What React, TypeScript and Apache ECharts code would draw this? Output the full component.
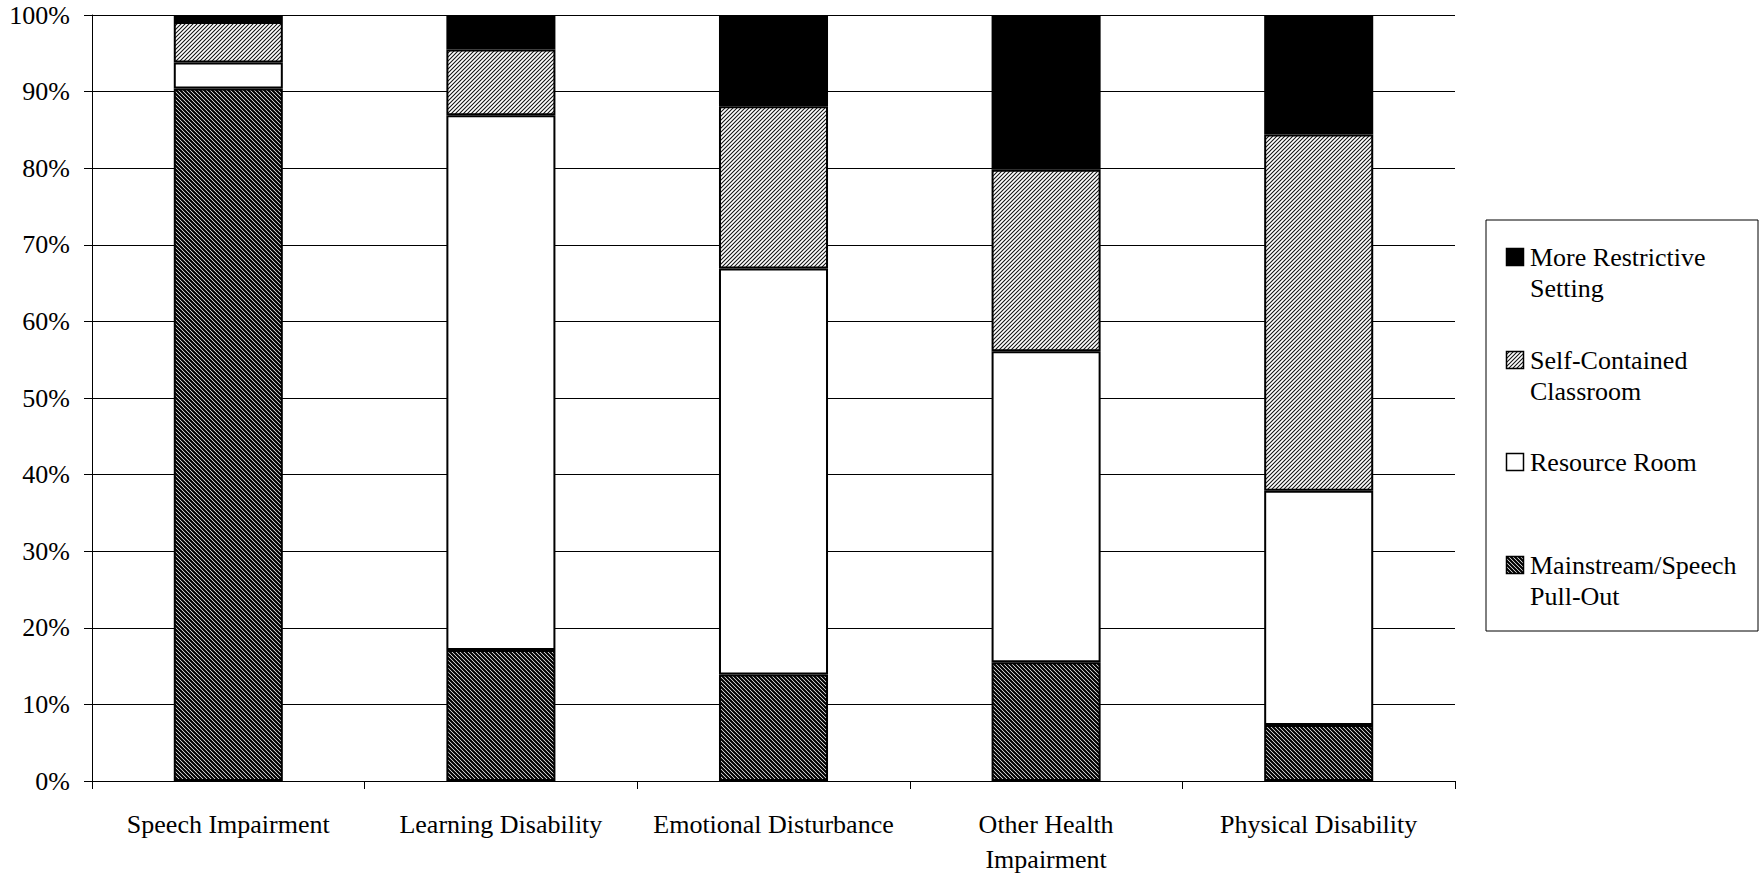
import { useEffect, useRef } from 'react';
import * as echarts from 'echarts';

// Placement of students by disability category (percent of each category)
const categories = [
  'Speech Impairment',
  'Learning Disability',
  'Emotional Disturbance',
  'Other Health\nImpairment',
  'Physical Disability',
];

const seriesNames = [
  'Mainstream/Speech Pull-Out',
  'Resource Room',
  'Self-Contained Classroom',
  'More Restrictive Setting',
];

const mainstream = [90.4, 17.1, 13.9, 15.5, 7.3];
const resourceRoom = [3.4, 69.8, 53.0, 40.6, 30.6];
const selfContained = [5.3, 8.6, 21.2, 23.7, 46.5];
const moreRestrictive = [0.9, 4.5, 11.9, 20.2, 15.6];

// Legend entries, top to bottom, split into their display lines
const legendEntries = [
  { series: 3, lines: ['More Restrictive', 'Setting'] },
  { series: 2, lines: ['Self-Contained', 'Classroom'] },
  { series: 1, lines: ['Resource Room'] },
  { series: 0, lines: ['Mainstream/Speech', 'Pull-Out'] },
];

const FONT = "'Liberation Serif', 'Times New Roman', serif";
const FONT_SIZE = 26;

// Small repeating diagonal hatch tile
function makeHatch(kind: 'light' | 'dark') {
  const size = 4;
  const c = document.createElement('canvas');
  c.width = size;
  c.height = size;
  const ctx = c.getContext('2d')!;
  const img = ctx.createImageData(size, size);
  const lightVals = [30, 190, 255, 190];
  const darkVals = [200, 25, 0, 25];
  for (let y = 0; y < size; y++) {
    for (let x = 0; x < size; x++) {
      let v: number;
      if (kind === 'light') {
        v = lightVals[(x + y) % size];
      } else {
        v = darkVals[(((x - y) % size) + size) % size];
      }
      const i = (y * size + x) * 4;
      img.data[i] = v;
      img.data[i + 1] = v;
      img.data[i + 2] = v;
      img.data[i + 3] = 255;
    }
  }
  ctx.putImageData(img, 0, 0);
  return {
    image: c.toDataURL(),
    repeat: 'repeat',
    imageWidth: size,
    imageHeight: size,
  } as any;
}

export default function App() {
  const ref = useRef<HTMLDivElement>(null);

  useEffect(() => {
    document.body.style.margin = '0';
    const chart = echarts.init(ref.current!, null, { renderer: 'svg' });

    const fills: any[] = [makeHatch('dark'), '#ffffff', makeHatch('light'), '#000000'];
    const values = [mainstream, resourceRoom, selfContained, moreRestrictive];

    const series = seriesNames.map((name, i) => ({
      name,
      type: 'bar',
      stack: 'placement',
      barWidth: '40%',
      data: values[i],
      itemStyle: {
        color: fills[i],
        borderColor: '#000',
        borderWidth: 2,
      },
      emphasis: { disabled: true },
    }));

    // Legend box drawn as graphic elements
    const boxX = 1486;
    const boxY = 220;
    const boxW = 272;
    const boxH = 411;
    const firstLineY = [257, 360, 462, 565];
    const lineH = 31;
    const legendEls: any[] = [
      {
        type: 'rect',
        shape: { x: boxX, y: boxY, width: boxW, height: boxH },
        style: { fill: '#fff', stroke: '#000', lineWidth: 1 },
      },
    ];
    legendEntries.forEach((entry, k) => {
      const cy = firstLineY[k];
      legendEls.push({
        type: 'rect',
        shape: { x: 1506.5, y: cy - 8.5, width: 17, height: 17 },
        style: { fill: fills[entry.series], stroke: '#000', lineWidth: 1.5 },
      });
      legendEls.push({
        type: 'text',
        x: 1530,
        y: cy - lineH / 2,
        style: {
          text: entry.lines.join('\n'),
          font: `${FONT_SIZE}px ${FONT}`,
          fill: '#000',
          lineHeight: lineH,
          verticalAlign: 'top',
          align: 'left',
        },
      });
    });

    chart.setOption({
      animation: false,
      backgroundColor: '#fff',
      grid: { left: 92, top: 15, right: 305, bottom: 91, containLabel: false },
      xAxis: {
        type: 'category',
        data: categories,
        boundaryGap: true,
        axisLine: { show: true, lineStyle: { color: '#000', width: 1 } },
        axisTick: { show: true, length: 8, alignWithLabel: false, lineStyle: { color: '#000' } },
        axisLabel: {
          color: '#000',
          fontFamily: FONT,
          fontSize: FONT_SIZE,
          lineHeight: 35,
          margin: 26,
          interval: 0,
        },
      },
      yAxis: {
        type: 'value',
        min: 0,
        max: 100,
        interval: 10,
        axisLine: { show: true, lineStyle: { color: '#000', width: 1 } },
        axisTick: { show: true, length: 8, lineStyle: { color: '#000' } },
        axisLabel: {
          color: '#000',
          fontFamily: FONT,
          fontSize: FONT_SIZE,
          margin: 22,
          formatter: '{value}%',
        },
        splitLine: { show: true, lineStyle: { color: '#000', width: 1 } },
      },
      series,
      graphic: legendEls,
    });

    return () => chart.dispose();
  }, []);

  return <div ref={ref} style={{ width: 1760, height: 877 }} />;
}
